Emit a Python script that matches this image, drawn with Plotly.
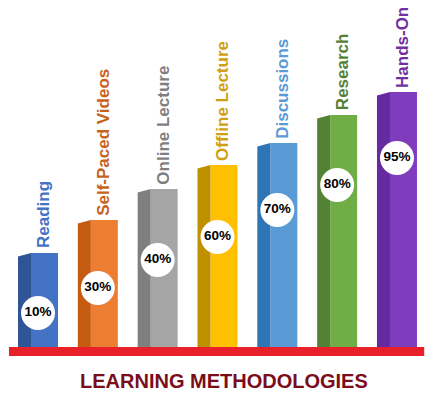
import plotly.graph_objects as go

# ---- data ----
categories = ["Reading", "Self-Paced Videos", "Online Lecture", "Offline Lecture",
              "Discussions", "Research", "Hands-On"]
bar_heights = [94, 127, 158, 182, 204, 232, 255]          # visual bar heights
percent_labels = ["10%", "30%", "40%", "60%", "70%", "80%", "95%"]
badge_heights = [34, 59, 87, 110, 137, 162, 189]          # badge centre heights
title_text = "LEARNING METHODOLOGIES"

# ---- styles ----
front_colors = ["#4472C4", "#ED7D31", "#A5A5A5", "#FFC000", "#5B9BD5", "#70AD47", "#7F3DBE"]
side_colors = ["#2F5597", "#C55A11", "#7F7F7F", "#BF9000", "#2E75B6", "#548235", "#6529A0"]
label_colors = ["#4472C4", "#C8631E", "#7F7F7F", "#CFA012", "#5B9BD5", "#548235", "#7030A0"]

W, H = 426, 394   # page has an 8px body margin
OFF = 8
PX = 59.83  # pixels per category unit
front_off = 6.5 / PX
front_w = 27 / PX
side_l = -20 / PX
side_r = -7 / PX
slant = 3.5

xs = list(range(len(categories)))

fig = go.Figure()

# side faces
for i, h in enumerate(bar_heights):
    fig.add_trace(go.Scatter(
        x=[i + side_l, i + side_l, i + side_r, i + side_r, i + side_l],
        y=[0, h - slant, h, 0, 0],
        mode="lines", fill="toself", fillcolor=side_colors[i],
        line=dict(width=0, color=side_colors[i]), hoverinfo="skip", showlegend=False))

# front faces
fig.add_trace(go.Bar(
    x=[i + front_off for i in xs], y=bar_heights, width=front_w,
    marker=dict(color=front_colors, line=dict(width=0)), showlegend=False,
    hovertext=categories))

# badges
fig.add_trace(go.Scatter(
    x=xs, y=badge_heights, mode="markers+text",
    marker=dict(size=34, color="white", line=dict(width=0)),
    text=percent_labels, textposition="middle center",
    textfont=dict(family="Liberation Sans", size=13.5, color="black", weight="bold"),
    showlegend=False, hoverinfo="skip"))

# vertical category labels
for i, (c, h) in enumerate(zip(categories, bar_heights)):
    fig.add_annotation(
        x=i + 5 / PX, y=h + 2.5, xref="x", yref="y", text="<b>" + c + "</b>",
        textangle=-90, showarrow=False, xanchor="center", yanchor="bottom",
        font=dict(family="Liberation Sans", size=17, color=label_colors[i]))

# title
fig.add_annotation(
    x=(223.5 - OFF) / W, y=-34, xref="paper", yref="y", text="<b>" + title_text + "</b>",
    showarrow=False, xanchor="center", yanchor="middle",
    font=dict(family="Liberation Sans", size=20, color="#7B0C1A"))

# red base
fig.add_shape(type="rect", xref="x", yref="y",
              x0=-0.485, x1=6.455, y0=-9, y1=0,
              fillcolor="#E8202A", line=dict(width=0), layer="above")

fig.update_layout(
    width=W, height=H,
    margin=dict(l=0, r=0, t=0, b=0),
    paper_bgcolor="white", plot_bgcolor="white",
    xaxis=dict(range=[(OFF - 38) / PX, (434 - 38) / PX], visible=False, fixedrange=True),
    yaxis=dict(range=[347 - 402, 347 - OFF], visible=False, fixedrange=True),
    showlegend=False,
)

fig.write_html("out.html")
